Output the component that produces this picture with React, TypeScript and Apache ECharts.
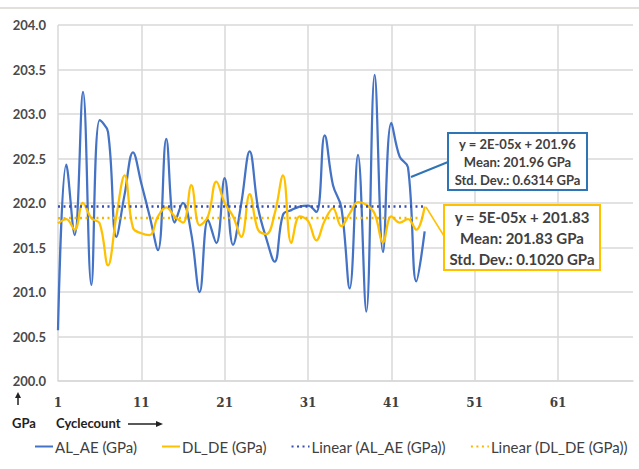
import React, { useEffect, useRef } from "react";
import * as echarts from "echarts";

const categories = Array.from({ length: 70 }, (_, i) => String(i + 1));

const alAe = [
  200.57, 202.43, 201.64, 203.25, 201.08, 202.93, 202.8, 201.62, 202.1, 202.57,
  202.22, 201.85, 201.47, 202.72, 201.78, 202.0, 201.65, 201.0, 201.81, 201.55,
  202.28, 201.53, 202.0, 202.58, 201.95, 201.6, 201.34, 201.87, 201.92, 201.96,
  201.97, 201.9, 202.76, 202.2, 201.95, 201.04, 202.54, 200.78, 203.44, 201.45,
  202.9, 202.52, 202.4, 201.12, 201.68,
];

const dlDe = [
  201.77, 201.82, 201.7, 202.0, 201.83, 201.77, 201.3, 201.85, 202.31, 201.72,
  201.66, 201.64, 201.85, 201.95, 201.85, 201.78, 202.2, 201.75, 201.85, 202.24,
  202.0, 201.85, 201.62, 202.1, 201.7, 201.65, 201.88, 202.31, 201.55, 201.85,
  201.8, 201.58, 201.8, 201.94, 201.74, 201.88, 202.01, 201.98, 201.88, 201.56,
  201.85, 201.78, 201.82, 201.7, 201.96,
];

const trendAlAe = [["1", 201.96], ["45", 201.961]];
const trendDlDe = [["1", 201.83], ["45", 201.832]];

const yTicks = { min: 200, max: 204, interval: 0.5 };

const seriesNames = [
  "AL_AE (GPa)",
  "DL_DE (GPa)",
  "Linear (AL_AE (GPa))",
  "Linear (DL_DE (GPa))",
];

const blueBoxLines = ["y = 2E-05x + 201.96", "Mean: 201.96 GPa", "Std. Dev.: 0.6314 GPa"];
const yellowBoxLines = ["y = 5E-05x + 201.83", "Mean: 201.83 GPa", "Std. Dev.: 0.1020 GPa"];

const FONT = "Lato, 'Noto Sans', sans-serif";
const BLUE = "#4472c4";
const YELLOW = "#ffc000";
const TBLUE = "#3a4db0";
const TYELLOW = "#f5b800";
const GRID = "#d9d9d9";

export default function App() {
  const ref = useRef<HTMLDivElement>(null);
  useEffect(() => {
    if (!ref.current) return;
    const chart = echarts.init(ref.current, null, { renderer: "svg" });
    chart.setOption({
      animation: false,
      backgroundColor: "#ffffff",
      grid: { left: 58, right: 6, top: 25, bottom: 88, containLabel: false },
      xAxis: {
        type: "category",
        data: categories,
        boundaryGap: false,
        axisTick: { show: false },
        axisLine: { show: true, lineStyle: { color: GRID, width: 1.5 } },
        axisLabel: {
          interval: 9,
          margin: 16,
          color: "#404040",
          fontFamily: "'DejaVu Serif', serif",
          fontWeight: "bold",
          fontSize: 12,
        },
        splitLine: { show: true, interval: 9, lineStyle: { color: GRID, width: 1.5 } },
      },
      yAxis: {
        type: "value",
        min: yTicks.min,
        max: yTicks.max,
        interval: yTicks.interval,
        axisLine: { show: false },
        axisTick: { show: false },
        axisLabel: {
          margin: 12,
          color: "#4a4a4a",
          fontFamily: FONT,
          fontWeight: "bold",
          fontSize: 13,
          formatter: (v: number) => v.toFixed(1),
        },
        splitLine: { lineStyle: { color: GRID, width: 1.5 } },
      },
      legend: {
        data: seriesNames,
        left: 29,
        top: 434,
        width: 609,
        itemWidth: 18,
        itemHeight: 10,
        itemGap: 24,
        itemStyle: { opacity: 0 },
        textStyle: { fontFamily: FONT, fontSize: 15, color: "#404040", padding: [0, 0, 0, -3] },
      },
      series: [
        {
          name: seriesNames[0],
          type: "line",
          data: alAe,
          smooth: 0.4,
          symbol: "none",
          lineStyle: { color: BLUE, width: 2.25 },
          itemStyle: { color: BLUE },
        },
        {
          name: seriesNames[1],
          type: "line",
          data: dlDe,
          smooth: 0.4,
          symbol: "none",
          lineStyle: { color: YELLOW, width: 2.25 },
          itemStyle: { color: YELLOW },
        },
        {
          name: seriesNames[2],
          type: "line",
          data: trendAlAe,
          symbol: "none",
          lineStyle: { color: TBLUE, width: 2.5, type: [2, 3.5] },
          itemStyle: { color: TBLUE },
        },
        {
          name: seriesNames[3],
          type: "line",
          data: trendDlDe,
          symbol: "none",
          lineStyle: { color: TYELLOW, width: 2.5, type: [2, 3.5] },
          itemStyle: { color: TYELLOW },
        },
      ],
      graphic: {
        elements: [
          { type: "line", z: 100, shape: { x1: 0, y1: 8, x2: 639, y2: 8 }, style: { stroke: "#e3e0dc", lineWidth: 2 } },
          { type: "line", z: 100, shape: { x1: 18, y1: 405, x2: 18, y2: 396 }, style: { stroke: "#222", lineWidth: 1.5 } },
          { type: "polygon", z: 100, shape: { points: [[15, 398], [21, 398], [18, 392]] }, style: { fill: "#222" } },
          {
            type: "text",
            z: 100,
            left: 12,
            top: 416,
            style: { text: "GPa", fontFamily: FONT, fontWeight: "bold", fontSize: 13, fill: "#222" },
          },
          {
            type: "text",
            z: 100,
            left: 56,
            top: 416,
            style: { text: "Cyclecount", fontFamily: FONT, fontWeight: "bold", fontSize: 13, fill: "#222" },
          },
          { type: "line", z: 100, shape: { x1: 128, y1: 424, x2: 158, y2: 424 }, style: { stroke: "#222", lineWidth: 1.5 } },
          { type: "polygon", z: 100, shape: { points: [[156, 421], [156, 427], [163, 424]] }, style: { fill: "#222" } },
          { type: "line", z: 100, shape: { x1: 448, y1: 162, x2: 411, y2: 177 }, style: { stroke: "#2e75b6", lineWidth: 2 } },
          { type: "line", z: 100, shape: { x1: 426, y1: 207, x2: 444, y2: 236 }, style: { stroke: YELLOW, lineWidth: 1.5 } },
          {
            type: "rect",
            z: 100,
            shape: { x: 448, y: 133, width: 139, height: 57 },
            style: { fill: "#fff", stroke: "#2e75b6", lineWidth: 2 },
          },
          {
            type: "text",
            z: 101,
            x: 517.5,
            y: 162,
            style: {
              text: blueBoxLines.join("\n"),
              align: "center",
              verticalAlign: "middle",
              lineHeight: 18,
              fontFamily: FONT,
              fontWeight: "bold",
              fontSize: 13,
              fill: "#404040",
            },
          },
          {
            type: "rect",
            z: 100,
            shape: { x: 444, y: 205, width: 156, height: 65 },
            style: { fill: "#fff", stroke: YELLOW, lineWidth: 2 },
          },
          {
            type: "text",
            z: 101,
            x: 522,
            y: 238,
            style: {
              text: yellowBoxLines.join("\n"),
              align: "center",
              verticalAlign: "middle",
              lineHeight: 21,
              fontFamily: FONT,
              fontWeight: "bold",
              fontSize: 15,
              fill: "#404040",
            },
          },
        ],
      },
    });
    return () => chart.dispose();
  }, []);
  return (
    <div
      ref={ref}
      style={{ position: "fixed", left: 0, top: 0, width: 639, height: 469, background: "#fff" }}
    />
  );
}
